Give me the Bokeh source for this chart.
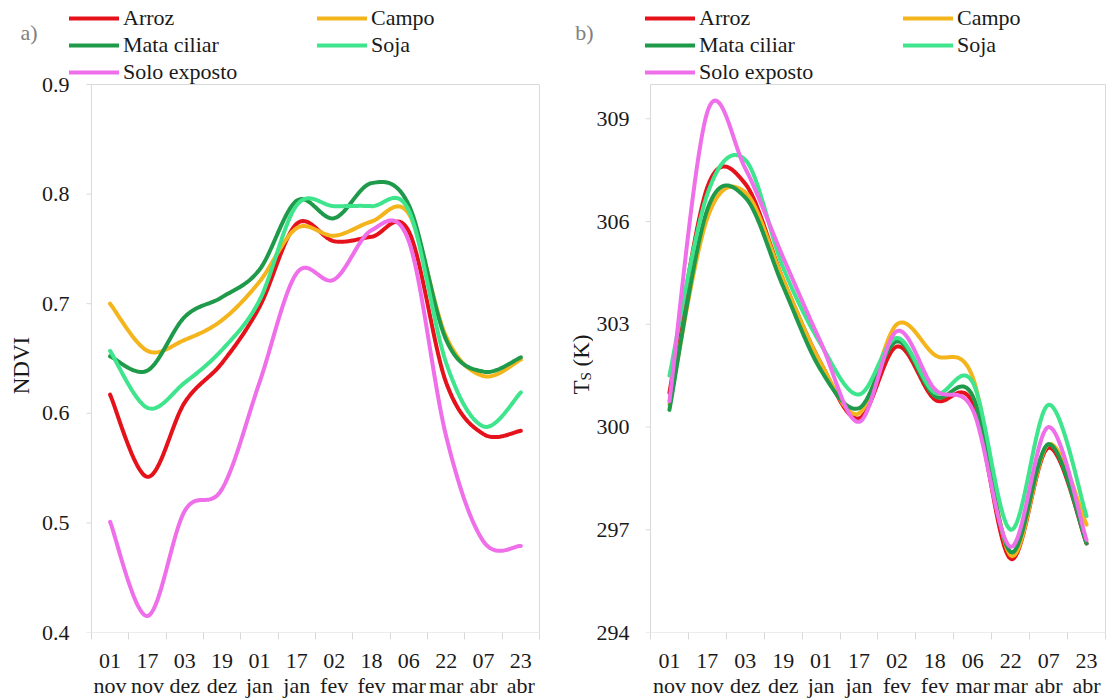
import numpy as np
from bokeh.plotting import figure
from bokeh.models import Range1d, FixedTicker, Legend, LegendItem, Label
from bokeh.layouts import row
from bokeh.embed import file_html
from bokeh.resources import INLINE

# ---------------- data ----------------
dates = ["01\nnov", "17\nnov", "03\ndez", "19\ndez", "01\njan", "17\njan",
         "02\nfev", "18\nfev", "06\nmar", "22\nmar", "07\nabr", "23\nabr"]
series_names = ["Arroz", "Campo", "Mata ciliar", "Soja", "Solo exposto"]
colors = ["#e5121b", "#f4b41c", "#1f9a4b", "#3ee58c", "#ef6ee9"]

ndvi_arroz = [0.617, 0.542, 0.610, 0.646, 0.697, 0.773, 0.757, 0.761, 0.766, 0.628, 0.581, 0.584]
ndvi_campo = [0.700, 0.657, 0.667, 0.685, 0.720, 0.769, 0.762, 0.775, 0.782, 0.670, 0.634, 0.649]
ndvi_mata = [0.652, 0.639, 0.688, 0.706, 0.731, 0.794, 0.778, 0.810, 0.790, 0.667, 0.638, 0.651]
ndvi_soja = [0.657, 0.605, 0.628, 0.658, 0.703, 0.790, 0.789, 0.789, 0.785, 0.646, 0.588, 0.619]
ndvi_solo = [0.501, 0.415, 0.511, 0.531, 0.628, 0.728, 0.722, 0.767, 0.757, 0.579, 0.483, 0.479]

ts_arroz = [301.0, 307.0, 307.1, 304.3, 301.85, 300.25, 302.35, 300.8, 300.7, 296.15, 299.4, 296.6]
ts_campo = [300.65, 306.1, 306.85, 304.3, 301.85, 300.4, 303.0, 302.1, 301.45, 296.25, 299.5, 297.15]
ts_mata = [300.5, 306.35, 306.7, 304.1, 301.65, 300.55, 302.5, 300.9, 300.9, 296.35, 299.5, 296.6]
ts_soja = [301.5, 306.8, 307.8, 304.65, 302.4, 300.95, 302.6, 301.0, 301.3, 297.0, 300.65, 297.4]
ts_solo = [300.75, 309.2, 307.55, 304.95, 302.45, 300.15, 302.8, 301.1, 300.5, 296.5, 300.0, 296.7]

ndvi_ticks = [0.4, 0.5, 0.6, 0.7, 0.8, 0.9]
ndvi_box = (0.4, 0.9)
ts_ticks = [294, 297, 300, 303, 306, 309]
ts_box = (294, 310)

FONT = "Liberation Serif"
GRAY = "#d9d9d9"
TXT = "#1a1a1a"
H = 700
BORDER_BOTTOM = 68
FRAME_H = H - BORDER_BOTTOM     # frame reaches the top of the canvas
BOX_TOP_PX = 84                 # where the plot box starts (from the top)


def smooth(vals, n=24):
    """Excel-like smoothed line (Catmull-Rom Bezier) through the data points."""
    y = np.asarray(vals, float)
    x = np.arange(len(y), dtype=float)
    Py = np.concatenate([[y[0]], y, [y[-1]]])
    Px = np.concatenate([[x[0]], x, [x[-1]]])
    xs, ys = [], []
    m = len(y)
    for i in range(m - 1):
        t = np.linspace(0, 1, n, endpoint=(i == m - 2))
        for P, out in ((Px, xs), (Py, ys)):
            p0, p1, p2, p3 = P[i], P[i + 1], P[i + 2], P[i + 3]
            b1 = p1 + (p2 - p0) / 6.0
            b2 = p2 - (p3 - p1) / 6.0
            out.append((1 - t) ** 3 * p1 + 3 * (1 - t) ** 2 * t * b1
                       + 3 * (1 - t) * t ** 2 * b2 + t ** 3 * p2)
    return np.concatenate(xs), np.concatenate(ys)


def strip(width):
    f = figure(width=width, height=H, output_backend="svg", toolbar_location=None,
               x_range=Range1d(0, 1), y_range=Range1d(0, 1),
               x_axis_location=None, y_axis_location=None,
               min_border_left=0, min_border_right=0, min_border_top=0,
               min_border_bottom=BORDER_BOTTOM)
    f.outline_line_color = None
    f.background_fill_color = "white"
    f.border_fill_color = "white"
    f.xgrid.visible = False
    f.ygrid.visible = False
    return f


def panel(series, box, yticks, ylabels, width, border_l, pad_l, box_w, pad_r, label_w, standoff):
    """border_l: px left of frame; pad_l: px between frame left and box left;
    box_w: px width of the box; pad_r: px between box right and frame right."""
    n = len(dates)
    ppu_x = box_w / n
    x0, x1 = -0.5, n - 0.5
    xr = Range1d(x0 - pad_l / ppu_x, x1 + pad_r / ppu_x)
    ppu_y = (FRAME_H - BOX_TOP_PX) / (box[1] - box[0])
    yr = Range1d(box[0], box[1] + BOX_TOP_PX / ppu_y)
    frame_w = pad_l + box_w + pad_r
    p = figure(width=width, height=H, output_backend="svg", toolbar_location=None,
               x_range=xr, y_range=yr,
               min_border_left=border_l, min_border_right=width - border_l - frame_w,
               min_border_top=0, min_border_bottom=BORDER_BOTTOM)
    p.background_fill_color = "white"
    p.border_fill_color = "white"
    p.outline_line_color = None
    p.xgrid.visible = False
    p.ygrid.visible = False

    # plot box and y tick marks
    p.quad(left=[x0], right=[x1], bottom=[box[0]], top=[box[1]],
           fill_color=None, line_color=GRAY, line_width=1)
    p.segment(x0=[x0] * len(yticks), x1=[x0 - 5 / ppu_x] * len(yticks),
              y0=yticks, y1=yticks, line_color=GRAY, line_width=1)

    rends = []
    for vals, c in zip(series, colors):
        xs, ys = smooth(vals)
        rends.append(p.line(xs, ys, line_color=c, line_width=4,
                            line_cap="round", line_join="round"))

    xa = p.xaxis[0]
    xa.ticker = FixedTicker(ticks=list(range(n)), minor_ticks=[i - 0.5 for i in range(n + 1)])
    xa.major_label_overrides = {i: d for i, d in enumerate(dates)}
    xa.major_tick_line_color = None
    xa.major_tick_out = 0
    xa.major_tick_in = 0
    xa.minor_tick_line_color = GRAY
    xa.minor_tick_out = 7
    xa.minor_tick_in = 0
    xa.axis_line_color = None
    xa.major_label_standoff = 8
    xa.major_label_text_font = FONT
    xa.major_label_text_font_size = "22px"
    xa.major_label_text_color = TXT
    xa.major_label_text_line_height = 1.0

    ya = p.yaxis[0]
    ya.ticker = FixedTicker(ticks=yticks)
    ya.major_label_overrides = {t: l for t, l in zip(yticks, ylabels)}
    ya.major_tick_line_color = None
    ya.major_tick_out = 0
    ya.major_tick_in = 0
    ya.minor_tick_line_color = None
    ya.axis_line_color = None
    ya.major_label_standoff = standoff
    ya.major_label_text_font = FONT
    ya.major_label_text_font_size = "22px"
    ya.major_label_text_color = TXT

    items = [LegendItem(label=nm, renderers=[r]) for nm, r in zip(series_names, rends)]
    leg = Legend(items=items, location=(0, FRAME_H - 84.5), orientation="horizontal", ncols=2,
                 padding=0, margin=0, spacing=1, glyph_width=50, glyph_height=24,
                 label_height=24, label_width=label_w, label_standoff=4,
                 border_line_color=None, background_fill_alpha=0,
                 label_text_font=FONT, label_text_font_size="22px",
                 label_text_color=TXT, label_text_line_height=1.0)
    p.add_layout(leg, "center")
    return p


# ---------------- left panel (a) ----------------
sa = strip(38)
sa.add_layout(Label(x=20, y=FRAME_H - 32, x_units="screen", y_units="screen",
                    text="a)", text_font=FONT, text_font_size="22px",
                    text_color="#808080", text_baseline="middle", text_align="left"))
sa.add_layout(Label(x=21, y=FRAME_H - 365, x_units="screen", y_units="screen", angle=np.pi / 2,
                    text="NDVI", text_font=FONT, text_font_size="23px",
                    text_color=TXT, text_baseline="middle", text_align="center"))
p1 = panel([ndvi_arroz, ndvi_campo, ndvi_mata, ndvi_soja, ndvi_solo],
           ndvi_box, ndvi_ticks, ["%.1f" % t for t in ndvi_ticks],
           width=522, border_l=29, pad_l=22, box_w=450, pad_r=2, label_w=193, standoff=0)

# ---------------- right panel (b) ----------------
sb = strip(33)
sb.add_layout(Label(x=33, y=FRAME_H - 32, x_units="screen", y_units="screen",
                    text="b)", text_font=FONT, text_font_size="22px",
                    text_color="#808080", text_baseline="middle", text_align="right"))
base_y = FRAME_H - 394
sb.add_layout(Label(x=21, y=base_y, x_units="screen", y_units="screen", angle=np.pi / 2,
                    text="T", text_font=FONT, text_font_size="23px", text_color=TXT,
                    text_align="left", text_baseline="alphabetic"))
sb.add_layout(Label(x=25.5, y=base_y + 14, x_units="screen", y_units="screen", angle=np.pi / 2,
                    text="S", text_font=FONT, text_font_size="15px", text_color=TXT,
                    text_align="left", text_baseline="alphabetic"))
sb.add_layout(Label(x=21, y=base_y + 28, x_units="screen", y_units="screen", angle=np.pi / 2,
                    text="(K)", text_font=FONT, text_font_size="23px", text_color=TXT,
                    text_align="left", text_baseline="alphabetic"))
p2 = panel([ts_arroz, ts_campo, ts_mata, ts_soja, ts_solo],
           ts_box, ts_ticks, [str(t) for t in ts_ticks],
           width=515, border_l=49, pad_l=5, box_w=458, pad_r=2, label_w=203, standoff=16)

layout = row(sa, p1, sb, p2)
open("out.html", "w").write(file_html(layout, INLINE))
